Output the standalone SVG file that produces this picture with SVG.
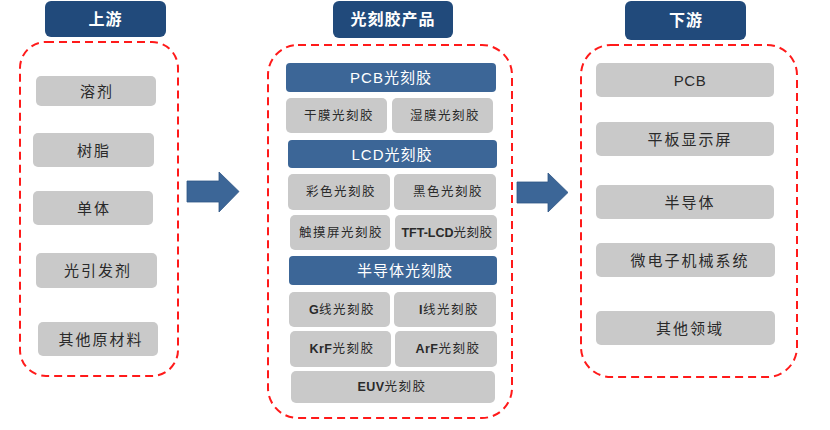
<svg xmlns="http://www.w3.org/2000/svg" width="830" height="430" viewBox="0 0 830 430">
<style>
.hdr{fill:#214A7B;}
.bar{fill:#3C6697;}
.box{fill:#C9C9C9;}
.dash{fill:none;stroke:#FF1A1A;stroke-width:2;stroke-dasharray:8 5;}
.arrow{fill:#3C6697;stroke:#2F5585;stroke-width:0.8;}
text{font-family:"Liberation Sans","Noto Sans CJK SC",sans-serif;text-anchor:middle;dominant-baseline:central;}
.ht{fill:#FFFFFF;font-size:16px;font-weight:bold;letter-spacing:1px;}
.bt{fill:#FFFFFF;font-size:15px;letter-spacing:1px;}
.gt{fill:#2A2A2A;font-size:15px;letter-spacing:2px;}
.st{fill:#2A2A2A;font-size:12.5px;letter-spacing:1.5px;}
.lb{font-weight:bold;letter-spacing:0.5px;}
</style>
<rect width="830" height="430" fill="#FFFFFF"/>
<g id="connectors">
<polygon class="arrow" points="187,181 219,181 219,172 239,191.5 219,212 219,202 187,202"/>
<polygon class="arrow" points="517,182 548,182 548,173 568,192.5 548,212 548,203 517,203"/>
</g>
<g id="upstream">
<rect class="dash" x="20" y="42" width="158" height="334" rx="26"/>
<g id="hdr-up"><rect class="hdr" x="45" y="1" width="121" height="36" rx="6"/><text class="ht" x="105.5" y="19">上游</text></g>
<g id="u1"><rect class="box" x="36" y="76" width="120" height="30" rx="5"/><text class="gt" x="97" y="91">溶剂</text></g>
<g id="u2"><rect class="box" x="33" y="133" width="121" height="34" rx="5"/><text class="gt" x="94" y="150">树脂</text></g>
<g id="u3"><rect class="box" x="33" y="191" width="120" height="34" rx="5"/><text class="gt" x="94" y="208">单体</text></g>
<g id="u4"><rect class="box" x="36" y="253" width="121" height="35" rx="5"/><text class="gt" x="98" y="270.5">光引发剂</text></g>
<g id="u5"><rect class="box" x="38" y="322" width="120" height="34" rx="5"/><text class="gt" x="101" y="339">其他原材料</text></g>
</g>
<g id="products">
<rect class="dash" x="268" y="45" width="244" height="373" rx="30"/>
<g id="hdr-mid"><rect class="hdr" x="333" y="1" width="120" height="37" rx="6"/><text class="ht" x="393" y="19.5">光刻胶产品</text></g>
<g id="pcb-bar"><rect class="bar" x="286" y="63" width="210" height="29" rx="4"/><text class="bt" x="391" y="77.5">PCB光刻胶</text></g>
<g id="p1"><rect class="box" x="286" y="98" width="101" height="35" rx="5"/><text class="st" x="339" y="115.5">干膜光刻胶</text></g>
<g id="p2"><rect class="box" x="392" y="98" width="101" height="35" rx="5"/><text class="st" x="445" y="115.5">湿膜光刻胶</text></g>
<g id="lcd-bar"><rect class="bar" x="288" y="140" width="209" height="28" rx="4"/><text class="bt" x="392" y="154">LCD光刻胶</text></g>
<g id="p3"><rect class="box" x="288" y="174" width="102" height="36" rx="5"/><text class="st" x="341" y="192">彩色光刻胶</text></g>
<g id="p4"><rect class="box" x="394" y="174" width="102" height="36" rx="5"/><text class="st" x="448" y="192">黑色光刻胶</text></g>
<g id="p5"><rect class="box" x="290" y="215" width="100" height="35" rx="5"/><text class="st" x="341" y="232.5">触摸屏光刻胶</text></g>
<g id="p6"><rect class="box" x="395" y="215" width="102" height="35" rx="5"/><text class="st" x="447" y="232.5" style="letter-spacing:0.5px"><tspan class="lb" style="letter-spacing:0">TFT-LCD</tspan>光刻胶</text></g>
<g id="semi-bar"><rect class="bar" x="289" y="256" width="208" height="29" rx="4"/><text class="bt" x="405" y="270.5">半导体光刻胶</text></g>
<g id="p7"><rect class="box" x="289" y="292" width="101" height="35" rx="5"/><text class="st" x="342" y="309.5"><tspan class="lb">G</tspan>线光刻胶</text></g>
<g id="p8"><rect class="box" x="394" y="292" width="102" height="35" rx="5"/><text class="st" x="449" y="309.5"><tspan class="lb">I</tspan>线光刻胶</text></g>
<g id="p9"><rect class="box" x="290" y="331" width="101" height="36" rx="5"/><text class="st" x="342" y="349"><tspan class="lb">KrF</tspan>光刻胶</text></g>
<g id="p10"><rect class="box" x="395" y="331" width="102" height="36" rx="5"/><text class="st" x="448" y="349"><tspan class="lb">ArF</tspan>光刻胶</text></g>
<g id="p11"><rect class="box" x="291" y="371" width="204" height="32" rx="5"/><text class="st" x="392" y="387"><tspan class="lb">EUV</tspan>光刻胶</text></g>
</g>
<g id="downstream">
<rect class="dash" x="581" y="45" width="216" height="332" rx="30"/>
<g id="hdr-down"><rect class="hdr" x="625" y="1" width="121" height="39" rx="6"/><text class="ht" x="686" y="20.5">下游</text></g>
<g id="d1"><rect class="box" x="596" y="63" width="178" height="34" rx="5"/><text class="gt" x="690" y="80" style="letter-spacing:0.5px">PCB</text></g>
<g id="d2"><rect class="box" x="596" y="122" width="178" height="34" rx="5"/><text class="gt" x="690" y="139">平板显示屏</text></g>
<g id="d3"><rect class="box" x="596" y="185" width="178" height="34" rx="5"/><text class="gt" x="690" y="202">半导体</text></g>
<g id="d4"><rect class="box" x="596" y="243" width="179" height="34" rx="5"/><text class="gt" x="690" y="260">微电子机械系统</text></g>
<g id="d5"><rect class="box" x="596" y="311" width="179" height="34" rx="5"/><text class="gt" x="690" y="328">其他领域</text></g>
</g>
</svg>
